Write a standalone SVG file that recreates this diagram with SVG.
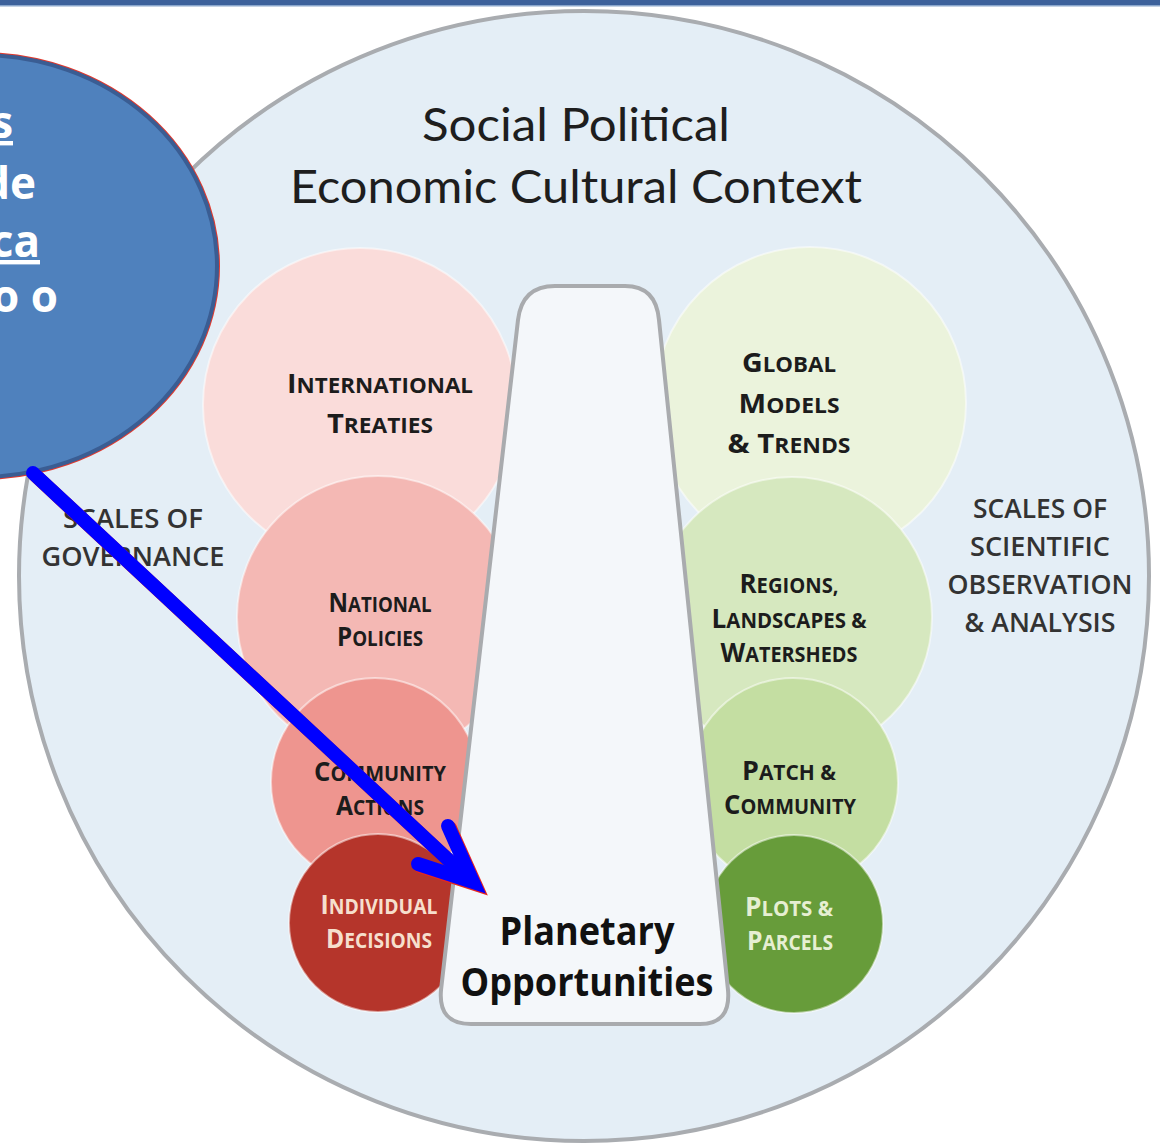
<svg xmlns="http://www.w3.org/2000/svg" width="1160" height="1147" viewBox="0 0 1160 1147">
  <style>
    .title { font-family: "Lato", "Open Sans", "Liberation Sans", sans-serif; font-size: 46px; fill: #1e1e1e; }
    .side { font-family: "Open Sans", "Liberation Sans", sans-serif; font-weight: 600; font-size: 27px; fill: #333; }
    .lbl { font-family: "Open Sans", "Liberation Sans", sans-serif; font-weight: 700; fill: #1c1c1c; }
    .lbl .cap { font-size: 27px; }
    .lbl .sm { font-size: 21px; }
    .lite { fill: #f6dfcd; }
    .litegreen { fill: #e6efd2; }
    .center { font-family: "Open Sans", "Liberation Sans", sans-serif; font-weight: 700; font-size: 40px; fill: #111; }
    .call { font-family: "Open Sans", "Liberation Sans", sans-serif; font-weight: 700; font-size: 44px; fill: #ffffff; }
    .bubble { stroke: #ffffff; stroke-opacity: 0.5; stroke-width: 2; }
  </style>

  <!-- page background and header rule -->
  <rect x="0" y="0" width="1160" height="1147" fill="#ffffff"/>
  <rect x="0" y="0" width="1160" height="5" fill="#3d619b"/>
  <rect x="0" y="5" width="1160" height="1.5" fill="#8aa6cc"/>

  <!-- outer context circle -->
  <g id="context">
    <circle cx="584" cy="576" r="565" fill="#e4eef6" stroke="#a9acb0" stroke-width="4"/>
    <text class="title" x="576" y="141" text-anchor="middle" textLength="308" lengthAdjust="spacingAndGlyphs">Social Political</text>
    <text class="title" x="576" y="203" text-anchor="middle" textLength="572" lengthAdjust="spacingAndGlyphs">Economic Cultural Context</text>
  </g>

  <g id="scales-governance">
    <text class="side" x="133" y="528" text-anchor="middle" textLength="140" lengthAdjust="spacingAndGlyphs">SCALES OF</text>
    <text class="side" x="133" y="566" text-anchor="middle" textLength="183" lengthAdjust="spacingAndGlyphs">GOVERNANCE</text>
  </g>

  <g id="scales-science">
    <text class="side" x="1040" y="518" text-anchor="middle" textLength="134" lengthAdjust="spacingAndGlyphs">SCALES OF</text>
    <text class="side" x="1040" y="556" text-anchor="middle" textLength="140" lengthAdjust="spacingAndGlyphs">SCIENTIFIC</text>
    <text class="side" x="1040" y="594" text-anchor="middle" textLength="185" lengthAdjust="spacingAndGlyphs">OBSERVATION</text>
    <text class="side" x="1040" y="632" text-anchor="middle" textLength="151" lengthAdjust="spacingAndGlyphs">&amp; ANALYSIS</text>
  </g>

  <!-- governance scales (left stack) -->
  <g id="international-treaties">
    <circle class="bubble" cx="360" cy="405" r="157" fill="#fadcda"/>
    <text class="lbl" x="380" y="393" text-anchor="middle" textLength="186" lengthAdjust="spacingAndGlyphs"><tspan class="cap">I</tspan><tspan class="sm">NTERNATIONAL</tspan></text>
    <text class="lbl" x="380" y="433" text-anchor="middle" textLength="106" lengthAdjust="spacingAndGlyphs"><tspan class="cap">T</tspan><tspan class="sm">REATIES</tspan></text>
  </g>
  <g id="national-policies">
    <circle class="bubble" cx="378" cy="617" r="141" fill="#f4b8b4"/>
    <text class="lbl" x="380" y="612" text-anchor="middle" textLength="103" lengthAdjust="spacingAndGlyphs"><tspan class="cap">N</tspan><tspan class="sm">ATIONAL</tspan></text>
    <text class="lbl" x="380" y="646" text-anchor="middle" textLength="86" lengthAdjust="spacingAndGlyphs"><tspan class="cap">P</tspan><tspan class="sm">OLICIES</tspan></text>
  </g>
  <g id="community-actions">
    <circle class="bubble" cx="375" cy="782" r="104" fill="#ee958f"/>
    <text class="lbl" x="380" y="781" text-anchor="middle" textLength="132" lengthAdjust="spacingAndGlyphs"><tspan class="cap">C</tspan><tspan class="sm">OMMUNITY</tspan></text>
    <text class="lbl" x="380" y="815" text-anchor="middle" textLength="88" lengthAdjust="spacingAndGlyphs"><tspan class="cap">A</tspan><tspan class="sm">CTIONS</tspan></text>
  </g>
  <g id="individual-decisions">
    <circle class="bubble" cx="378" cy="923" r="89" fill="#b5352b"/>
    <text class="lbl lite" x="379" y="914" text-anchor="middle" textLength="117" lengthAdjust="spacingAndGlyphs"><tspan class="cap">I</tspan><tspan class="sm">NDIVIDUAL</tspan></text>
    <text class="lbl lite" x="379" y="948" text-anchor="middle" textLength="106" lengthAdjust="spacingAndGlyphs"><tspan class="cap">D</tspan><tspan class="sm">ECISIONS</tspan></text>
  </g>

  <!-- observation scales (right stack) -->
  <g id="global-models">
    <circle class="bubble" cx="810" cy="403" r="156" fill="#ebf3dc"/>
    <text class="lbl" x="789" y="372" text-anchor="middle" textLength="94" lengthAdjust="spacingAndGlyphs"><tspan class="cap">G</tspan><tspan class="sm">LOBAL</tspan></text>
    <text class="lbl" x="789" y="413" text-anchor="middle" textLength="101" lengthAdjust="spacingAndGlyphs"><tspan class="cap">M</tspan><tspan class="sm">ODELS</tspan></text>
    <text class="lbl" x="789" y="453" text-anchor="middle" textLength="123" lengthAdjust="spacingAndGlyphs"><tspan class="cap">&amp; T</tspan><tspan class="sm">RENDS</tspan></text>
  </g>
  <g id="regions-landscapes">
    <circle class="bubble" cx="792" cy="617" r="140" fill="#d6e8bf"/>
    <text class="lbl" x="789" y="593" text-anchor="middle" textLength="99" lengthAdjust="spacingAndGlyphs"><tspan class="cap">R</tspan><tspan class="sm">EGIONS,</tspan></text>
    <text class="lbl" x="789" y="628" text-anchor="middle" textLength="155" lengthAdjust="spacingAndGlyphs"><tspan class="cap">L</tspan><tspan class="sm">ANDSCAPES &amp;</tspan></text>
    <text class="lbl" x="789" y="662" text-anchor="middle" textLength="137" lengthAdjust="spacingAndGlyphs"><tspan class="cap">W</tspan><tspan class="sm">ATERSHEDS</tspan></text>
  </g>
  <g id="patch-community">
    <circle class="bubble" cx="793" cy="783" r="105" fill="#c4dea2"/>
    <text class="lbl" x="789" y="780" text-anchor="middle" textLength="94" lengthAdjust="spacingAndGlyphs"><tspan class="cap">P</tspan><tspan class="sm">ATCH &amp;</tspan></text>
    <text class="lbl" x="790" y="814" text-anchor="middle" textLength="132" lengthAdjust="spacingAndGlyphs"><tspan class="cap">C</tspan><tspan class="sm">OMMUNITY</tspan></text>
  </g>
  <g id="plots-parcels">
    <circle class="bubble" cx="794" cy="924" r="89" fill="#679c3a"/>
    <text class="lbl litegreen" x="789" y="916" text-anchor="middle" textLength="88" lengthAdjust="spacingAndGlyphs"><tspan class="cap">P</tspan><tspan class="sm">LOTS &amp;</tspan></text>
    <text class="lbl litegreen" x="790" y="950" text-anchor="middle" textLength="86" lengthAdjust="spacingAndGlyphs"><tspan class="cap">P</tspan><tspan class="sm">ARCELS</tspan></text>
  </g>

  <!-- central tapered column -->
  <g id="planetary-opportunities">
    <path d="M 555 286 L 625 286 Q 656 286 659 320 L 728 990 Q 731 1024 700 1024 L 471 1024 Q 438 1024 441 990 L 518 320 Q 522 286 555 286 Z" fill="#f4f7fa" stroke="#a9abae" stroke-width="4"/>
    <text class="center" x="587" y="945" text-anchor="middle" textLength="175" lengthAdjust="spacingAndGlyphs">Planetary</text>
    <text class="center" x="587" y="996" text-anchor="middle" textLength="253" lengthAdjust="spacingAndGlyphs">Opportunities</text>
  </g>

  <!-- speech bubble, partly off the left edge -->
  <g id="callout">
    <ellipse cx="-20" cy="266" rx="237" ry="211" fill="#4f81bd" stroke="#e23a2e" stroke-width="6"/>
    <ellipse cx="-20" cy="266" rx="237" ry="211" fill="#4f81bd" stroke="#3a5d93" stroke-width="4"/>
    <text class="call" x="13" y="138" text-anchor="end" text-decoration="underline">s</text>
    <text class="call" x="36" y="199" text-anchor="end">de</text>
    <text class="call" x="40" y="257" text-anchor="end" text-decoration="underline">ca</text>
    <text class="call" x="58" y="312" text-anchor="end">o o</text>
  </g>

  <!-- connector from bubble to the column -->
  <g id="connectors" fill="none" stroke-width="14" stroke-linecap="round" stroke-linejoin="miter" stroke-miterlimit="10">
    <g transform="translate(2,2)" stroke="#e8261f">
      <line x1="33" y1="473" x2="470" y2="880"/>
      <polyline points="448,826 473,882 418,864"/>
    </g>
    <g stroke="#0000ff">
      <line x1="33" y1="473" x2="470" y2="880"/>
      <polyline points="448,826 473,882 418,864"/>
    </g>
  </g>
</svg>
